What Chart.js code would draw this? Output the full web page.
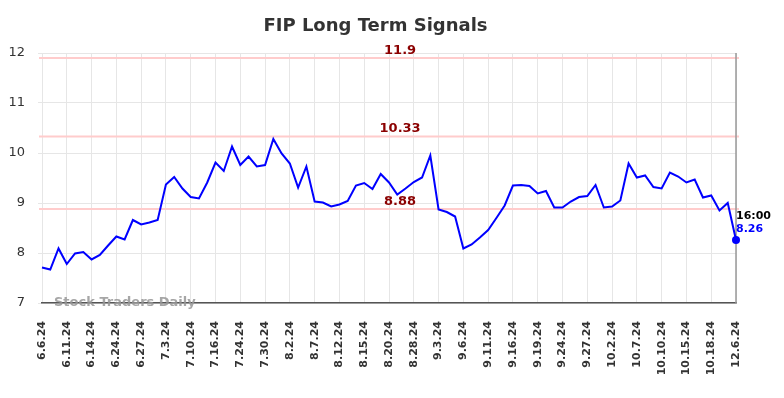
<!DOCTYPE html>
<html>
<head>
<meta charset="utf-8">
<script src="https://cdn.jsdelivr.net/npm/chart.js@4/dist/chart.umd.min.js"></script>
<style>
  html, body { margin: 0; padding: 0; background: #fff; }
  #wrap { width: 784px; height: 398px; }
</style>
</head>
<body>
<div id="wrap"><canvas id="chart"></canvas></div>
<script>
  // Tick labels (one every 3 trading days)
  const tickLabels = [
    "6.6.24", "6.11.24", "6.14.24", "6.24.24", "6.27.24", "7.3.24", "7.10.24",
    "7.16.24", "7.24.24", "7.30.24", "8.2.24", "8.7.24", "8.12.24", "8.15.24",
    "8.20.24", "8.28.24", "9.3.24", "9.6.24", "9.11.24", "9.16.24", "9.19.24",
    "9.24.24", "9.27.24", "10.2.24", "10.7.24", "10.10.24", "10.15.24",
    "10.18.24", "12.6.24"
  ];

  // Daily prices
  const prices = [
    7.71, 7.67, 8.09, 7.78, 7.99, 8.02, 7.87, 7.96, 8.15, 8.33,
    8.27, 8.66, 8.57, 8.61, 8.66, 9.37, 9.52, 9.29, 9.12, 9.09,
    9.41, 9.81, 9.64, 10.13, 9.76, 9.93, 9.73, 9.76, 10.28, 9.99,
    9.79, 9.31, 9.73, 9.03, 9.01, 8.93, 8.97, 9.04, 9.35, 9.40,
    9.28, 9.58, 9.41, 9.17, 9.29, 9.42, 9.51, 9.95, 8.87, 8.82,
    8.73, 8.09, 8.17, 8.31, 8.46, 8.70, 8.95, 9.35, 9.36, 9.34,
    9.19, 9.24, 8.91, 8.91, 9.03, 9.12, 9.14, 9.36, 8.91, 8.93,
    9.05, 9.79, 9.51, 9.55, 9.32, 9.29, 9.61, 9.53, 9.41, 9.47,
    9.11, 9.15, 8.85, 9.00, 8.26
  ];

  // Signal levels
  const levels = [11.9, 10.33, 8.88];
  const lastTime = "16:00";

  const labels = prices.map((v, i) => (i % 3 === 0 ? tickLabels[i / 3] : ""));
  const lastIdx = prices.length - 1;

  const overlay = {
    id: "overlay",
    beforeDatasetsDraw(chart) {
      const { ctx, chartArea, scales } = chart;
      ctx.save();
      ctx.strokeStyle = "#ffcccc";
      ctx.lineWidth = 2;
      levels.forEach((lv) => {
        const y = scales.y.getPixelForValue(lv);
        ctx.beginPath();
        ctx.moveTo(chartArea.left - 3, y);
        ctx.lineTo(chartArea.right + 3, y);
        ctx.stroke();
      });
      // right border
      ctx.strokeStyle = "#999";
      ctx.lineWidth = 1.5;
      ctx.beginPath();
      ctx.moveTo(chartArea.right, chartArea.top);
      ctx.lineTo(chartArea.right, chartArea.bottom);
      ctx.stroke();
      ctx.restore();
    },
    afterDraw(chart) {
      const { ctx, chartArea, scales } = chart;
      ctx.save();
      // level labels
      ctx.font = "bold 13px 'DejaVu Sans'";
      ctx.fillStyle = "#8b0000";
      ctx.textAlign = "center";
      ctx.textBaseline = "bottom";
      const lx = chartArea.left + chartArea.width * 0.516;
      levels.forEach((lv) => {
        ctx.fillText(String(lv), lx, scales.y.getPixelForValue(lv) - 1);
      });
      // last point labels
      const px = scales.x.getPixelForValue(lastIdx);
      const py = scales.y.getPixelForValue(prices[lastIdx]);
      ctx.textAlign = "left";
      ctx.textBaseline = "middle";
      ctx.font = "bold 11px 'DejaVu Sans'";
      ctx.fillStyle = "#000";
      ctx.fillText(lastTime, px, py - 24);
      ctx.fillStyle = "#0000ff";
      ctx.fillText(prices[lastIdx].toFixed(2), px, py - 11);
      // watermark
      ctx.font = "bold 13px 'DejaVu Sans'";
      ctx.fillStyle = "rgba(150,150,150,0.85)";
      ctx.textAlign = "left";
      ctx.fillText("Stock Traders Daily", chartArea.left + 12, chartArea.bottom);
      ctx.restore();
    },
  };

  new Chart(document.getElementById("chart"), {
    type: "line",
    data: {
      labels: labels,
      datasets: [
        {
          data: prices,
          borderColor: "#0000ff",
          backgroundColor: "#0000ff",
          borderWidth: 2,
          tension: 0,
          pointRadius: (c) => (c.dataIndex === lastIdx ? 4 : 0),
          pointBackgroundColor: "#0000ff",
          pointBorderWidth: 0,
        },
      ],
    },
    options: {
      responsive: true,
      maintainAspectRatio: false,
      animation: false,
      layout: { padding: { left: 0, right: 33, top: 0, bottom: 0 } },
      plugins: {
        legend: { display: false },
        tooltip: { enabled: false },
        title: {
          display: true,
          text: "FIP Long Term Signals",
          color: "#333",
          font: { family: "'DejaVu Sans'", size: 18, weight: "bold" },
          padding: { top: 16, bottom: 15.4 },
        },
      },
      scales: {
        x: {
          afterFit: (s) => { s.height = 95; },
          grid: {
            color: (c) => (c.index % 3 === 0 ? "#e6e6e6" : "rgba(0,0,0,0)"),
            drawTicks: false,
          },
          border: { color: "#555", width: 1.5 },
          ticks: {
            autoSkip: false,
            maxRotation: 90,
            minRotation: 90,
            padding: 18,
            color: "#333",
            font: { family: "'DejaVu Sans'", size: 11, weight: "bold" },
          },
        },
        y: {
          min: 7,
          max: 12,
          afterFit: (s) => { s.width = 42; },
          grid: { color: "#e6e6e6", tickLength: 4 },
          border: { display: false },
          ticks: {
            stepSize: 1,
            padding: 13,
            color: "#333",
            font: { family: "'DejaVu Sans'", size: 13 },
          },
        },
        // empty right-hand gutter
        y2: {
          position: "right",
          afterFit: (s) => { s.width = 15; },
          grid: { display: false },
          border: { display: false },
          ticks: { display: false },
        },
      },
    },
    plugins: [overlay],
  });
</script>
</body>
</html>
